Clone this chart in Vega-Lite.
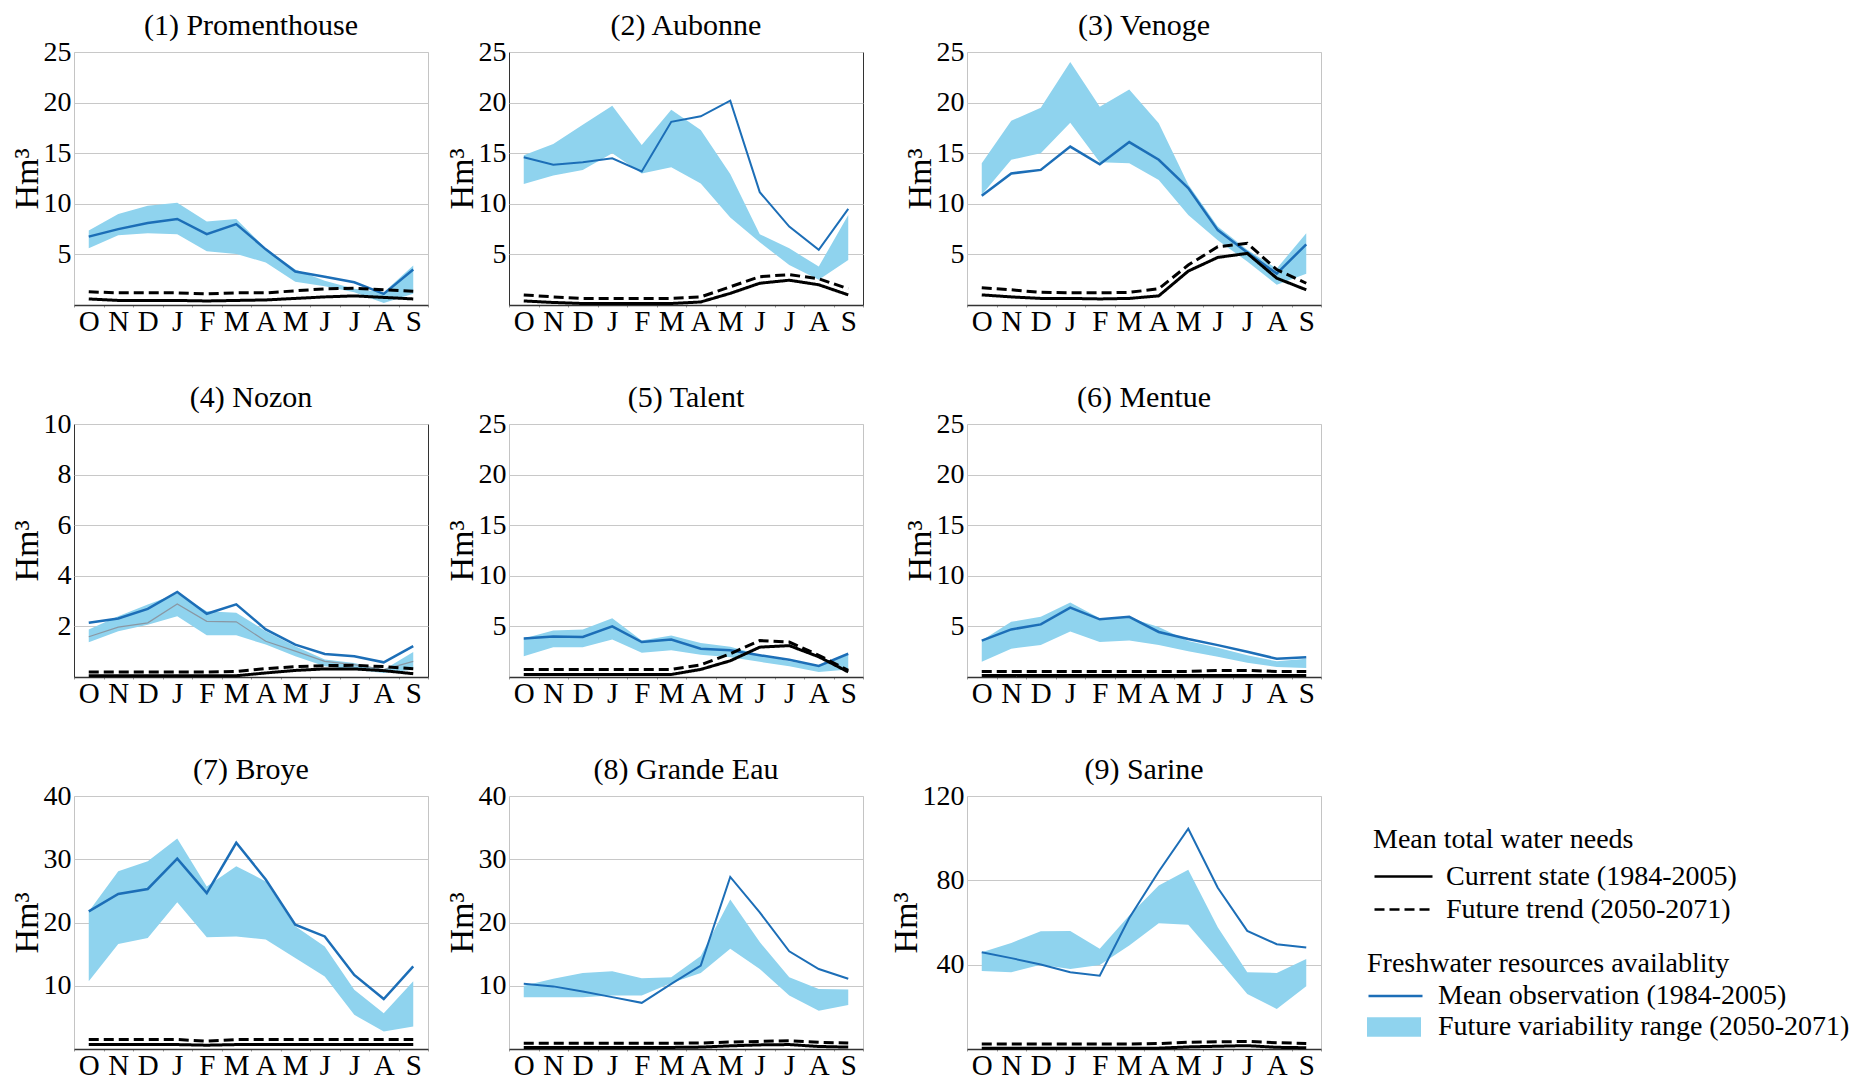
{
  "$schema": "https://vega.github.io/schema/vega-lite/v6.json",
  "background": "white",
  "padding": {"left": 9, "top": 10, "right": 5, "bottom": 0},
  "datasets": {
    "flows": [
      {"basin": "Promenthouse", "month": "Oct", "lo": 5.6, "hi": 7.35, "obs": 6.76, "now": 0.6, "fut": 1.3},
      {"basin": "Promenthouse", "month": "Nov", "lo": 6.9, "hi": 9.0, "obs": 7.5, "now": 0.45, "fut": 1.2},
      {"basin": "Promenthouse", "month": "Dec", "lo": 7.1, "hi": 9.8, "obs": 8.1, "now": 0.45, "fut": 1.2},
      {"basin": "Promenthouse", "month": "Jan", "lo": 7.0, "hi": 10.1, "obs": 8.5, "now": 0.45, "fut": 1.2},
      {"basin": "Promenthouse", "month": "Feb", "lo": 5.3, "hi": 8.25, "obs": 7.0, "now": 0.4, "fut": 1.1},
      {"basin": "Promenthouse", "month": "Mar", "lo": 5.05, "hi": 8.5, "obs": 8.0, "now": 0.45, "fut": 1.2},
      {"basin": "Promenthouse", "month": "Apr", "lo": 4.2, "hi": 5.6, "obs": 5.5, "now": 0.5, "fut": 1.2},
      {"basin": "Promenthouse", "month": "May", "lo": 2.3, "hi": 3.5, "obs": 3.3, "now": 0.65, "fut": 1.4},
      {"basin": "Promenthouse", "month": "Jun", "lo": 1.85, "hi": 2.4, "obs": 2.8, "now": 0.8, "fut": 1.6},
      {"basin": "Promenthouse", "month": "Jul", "lo": 1.25, "hi": 1.6, "obs": 2.25, "now": 0.9, "fut": 1.65},
      {"basin": "Promenthouse", "month": "Aug", "lo": 0.2, "hi": 1.25, "obs": 1.1, "now": 0.75, "fut": 1.5},
      {"basin": "Promenthouse", "month": "Sep", "lo": 1.1, "hi": 3.9, "obs": 3.5, "now": 0.6, "fut": 1.35},

      {"basin": "Aubonne", "month": "Oct", "lo": 11.95, "hi": 14.8, "obs": 14.6, "now": 0.4, "fut": 1.0},
      {"basin": "Aubonne", "month": "Nov", "lo": 12.8, "hi": 15.9, "obs": 13.85, "now": 0.25, "fut": 0.8},
      {"basin": "Aubonne", "month": "Dec", "lo": 13.35, "hi": 17.8, "obs": 14.1, "now": 0.15, "fut": 0.65},
      {"basin": "Aubonne", "month": "Jan", "lo": 15.0, "hi": 19.7, "obs": 14.5, "now": 0.15, "fut": 0.65},
      {"basin": "Aubonne", "month": "Feb", "lo": 13.0, "hi": 15.8, "obs": 13.2, "now": 0.15, "fut": 0.65},
      {"basin": "Aubonne", "month": "Mar", "lo": 13.6, "hi": 19.3, "obs": 18.1, "now": 0.15, "fut": 0.65},
      {"basin": "Aubonne", "month": "Apr", "lo": 12.0, "hi": 17.3, "obs": 18.65, "now": 0.3, "fut": 0.8},
      {"basin": "Aubonne", "month": "May", "lo": 8.65, "hi": 12.95, "obs": 20.2, "now": 1.15, "fut": 1.8},
      {"basin": "Aubonne", "month": "Jun", "lo": 6.2, "hi": 7.0, "obs": 11.15, "now": 2.15, "fut": 2.8},
      {"basin": "Aubonne", "month": "Jul", "lo": 3.95, "hi": 5.6, "obs": 7.75, "now": 2.45, "fut": 3.0},
      {"basin": "Aubonne", "month": "Aug", "lo": 2.5, "hi": 3.8, "obs": 5.45, "now": 2.0, "fut": 2.6},
      {"basin": "Aubonne", "month": "Sep", "lo": 4.45, "hi": 8.9, "obs": 9.5, "now": 1.0, "fut": 1.6},

      {"basin": "Venoge", "month": "Oct", "lo": 10.9, "hi": 14.0, "obs": 10.8, "now": 1.0, "fut": 1.7},
      {"basin": "Venoge", "month": "Nov", "lo": 14.35, "hi": 18.2, "obs": 13.0, "now": 0.8, "fut": 1.5},
      {"basin": "Venoge", "month": "Dec", "lo": 15.0, "hi": 19.5, "obs": 13.35, "now": 0.65, "fut": 1.25},
      {"basin": "Venoge", "month": "Jan", "lo": 18.0, "hi": 24.0, "obs": 15.65, "now": 0.65, "fut": 1.2},
      {"basin": "Venoge", "month": "Feb", "lo": 14.1, "hi": 19.6, "obs": 13.9, "now": 0.6, "fut": 1.2},
      {"basin": "Venoge", "month": "Mar", "lo": 14.0, "hi": 21.3, "obs": 16.1, "now": 0.65, "fut": 1.25},
      {"basin": "Venoge", "month": "Apr", "lo": 12.35, "hi": 17.95, "obs": 14.35, "now": 0.9, "fut": 1.6},
      {"basin": "Venoge", "month": "May", "lo": 8.9, "hi": 11.9, "obs": 11.55, "now": 3.35, "fut": 3.95},
      {"basin": "Venoge", "month": "Jun", "lo": 6.4, "hi": 7.75, "obs": 7.4, "now": 4.7, "fut": 5.75},
      {"basin": "Venoge", "month": "Jul", "lo": 4.3, "hi": 5.45, "obs": 5.2, "now": 5.1, "fut": 6.1},
      {"basin": "Venoge", "month": "Aug", "lo": 2.0, "hi": 3.6, "obs": 3.1, "now": 2.65, "fut": 3.5},
      {"basin": "Venoge", "month": "Sep", "lo": 3.1, "hi": 7.1, "obs": 6.0, "now": 1.5, "fut": 2.15},

      {"basin": "Nozon", "month": "Oct", "lo": 1.37, "hi": 1.88, "obs": 2.14, "mid": 1.59, "now": 0.05, "fut": 0.2},
      {"basin": "Nozon", "month": "Nov", "lo": 1.81, "hi": 2.4, "obs": 2.31, "mid": 1.97, "now": 0.05, "fut": 0.2},
      {"basin": "Nozon", "month": "Dec", "lo": 2.07, "hi": 2.87, "obs": 2.69, "mid": 2.14, "now": 0.05, "fut": 0.2},
      {"basin": "Nozon", "month": "Jan", "lo": 2.4, "hi": 3.3, "obs": 3.36, "mid": 2.89, "now": 0.05, "fut": 0.2},
      {"basin": "Nozon", "month": "Feb", "lo": 1.65, "hi": 2.6, "obs": 2.5, "mid": 2.2, "now": 0.05, "fut": 0.2},
      {"basin": "Nozon", "month": "Mar", "lo": 1.65, "hi": 2.54, "obs": 2.87, "mid": 2.18, "now": 0.05, "fut": 0.22},
      {"basin": "Nozon", "month": "Apr", "lo": 1.28, "hi": 1.81, "obs": 1.88, "mid": 1.41, "now": 0.16, "fut": 0.33},
      {"basin": "Nozon", "month": "May", "lo": 0.82, "hi": 1.22, "obs": 1.28, "mid": 1.02, "now": 0.26, "fut": 0.41},
      {"basin": "Nozon", "month": "Jun", "lo": 0.42, "hi": 0.69, "obs": 0.91, "mid": 0.62, "now": 0.32, "fut": 0.45},
      {"basin": "Nozon", "month": "Jul", "lo": 0.29, "hi": 0.55, "obs": 0.82, "mid": 0.49, "now": 0.32, "fut": 0.46},
      {"basin": "Nozon", "month": "Aug", "lo": 0.16, "hi": 0.29, "obs": 0.58, "mid": 0.29, "now": 0.25, "fut": 0.41},
      {"basin": "Nozon", "month": "Sep", "lo": 0.29, "hi": 0.99, "obs": 1.22, "mid": 0.62, "now": 0.13, "fut": 0.33},

      {"basin": "Talent", "month": "Oct", "lo": 2.05, "hi": 3.8, "obs": 3.8, "now": 0.25, "fut": 0.75},
      {"basin": "Talent", "month": "Nov", "lo": 2.95, "hi": 4.6, "obs": 4.0, "now": 0.25, "fut": 0.75},
      {"basin": "Talent", "month": "Dec", "lo": 2.95, "hi": 4.7, "obs": 3.95, "now": 0.25, "fut": 0.75},
      {"basin": "Talent", "month": "Jan", "lo": 3.7, "hi": 5.8, "obs": 5.0, "now": 0.25, "fut": 0.75},
      {"basin": "Talent", "month": "Feb", "lo": 2.4, "hi": 3.6, "obs": 3.45, "now": 0.25, "fut": 0.75},
      {"basin": "Talent", "month": "Mar", "lo": 2.65, "hi": 4.1, "obs": 3.7, "now": 0.25, "fut": 0.75},
      {"basin": "Talent", "month": "Apr", "lo": 2.2, "hi": 3.35, "obs": 2.8, "now": 0.75, "fut": 1.2},
      {"basin": "Talent", "month": "May", "lo": 1.95, "hi": 3.0, "obs": 2.65, "now": 1.6, "fut": 2.3},
      {"basin": "Talent", "month": "Jun", "lo": 1.5, "hi": 2.2, "obs": 2.15, "now": 2.95, "fut": 3.6},
      {"basin": "Talent", "month": "Jul", "lo": 1.05, "hi": 1.55, "obs": 1.7, "now": 3.1, "fut": 3.45},
      {"basin": "Talent", "month": "Aug", "lo": 0.5, "hi": 1.05, "obs": 1.1, "now": 2.0, "fut": 2.15},
      {"basin": "Talent", "month": "Sep", "lo": 0.75, "hi": 2.2, "obs": 2.3, "now": 0.5, "fut": 0.65},

      {"basin": "Mentue", "month": "Oct", "lo": 1.5, "hi": 3.6, "obs": 3.6, "now": 0.15, "fut": 0.55},
      {"basin": "Mentue", "month": "Nov", "lo": 2.8, "hi": 5.45, "obs": 4.7, "now": 0.15, "fut": 0.55},
      {"basin": "Mentue", "month": "Dec", "lo": 3.15, "hi": 5.95, "obs": 5.2, "now": 0.15, "fut": 0.55},
      {"basin": "Mentue", "month": "Jan", "lo": 4.5, "hi": 7.35, "obs": 6.85, "now": 0.15, "fut": 0.55},
      {"basin": "Mentue", "month": "Feb", "lo": 3.45, "hi": 5.8, "obs": 5.7, "now": 0.15, "fut": 0.55},
      {"basin": "Mentue", "month": "Mar", "lo": 3.6, "hi": 5.85, "obs": 5.95, "now": 0.15, "fut": 0.55},
      {"basin": "Mentue", "month": "Apr", "lo": 3.15, "hi": 4.95, "obs": 4.45, "now": 0.15, "fut": 0.55},
      {"basin": "Mentue", "month": "May", "lo": 2.55, "hi": 3.55, "obs": 3.75, "now": 0.15, "fut": 0.55},
      {"basin": "Mentue", "month": "Jun", "lo": 2.0, "hi": 2.9, "obs": 3.15, "now": 0.15, "fut": 0.65},
      {"basin": "Mentue", "month": "Jul", "lo": 1.4, "hi": 2.15, "obs": 2.5, "now": 0.15, "fut": 0.65},
      {"basin": "Mentue", "month": "Aug", "lo": 1.0, "hi": 1.55, "obs": 1.8, "now": 0.15, "fut": 0.55},
      {"basin": "Mentue", "month": "Sep", "lo": 0.9, "hi": 1.8, "obs": 1.95, "now": 0.15, "fut": 0.55},

      {"basin": "Broye", "month": "Oct", "lo": 10.7, "hi": 21.75, "obs": 21.75, "now": 0.7, "fut": 1.5},
      {"basin": "Broye", "month": "Nov", "lo": 16.6, "hi": 28.1, "obs": 24.5, "now": 0.7, "fut": 1.5},
      {"basin": "Broye", "month": "Dec", "lo": 17.55, "hi": 29.7, "obs": 25.3, "now": 0.7, "fut": 1.5},
      {"basin": "Broye", "month": "Jan", "lo": 23.2, "hi": 33.3, "obs": 30.1, "now": 0.7, "fut": 1.5},
      {"basin": "Broye", "month": "Feb", "lo": 17.65, "hi": 25.7, "obs": 24.65, "now": 0.6, "fut": 1.25},
      {"basin": "Broye", "month": "Mar", "lo": 17.8, "hi": 28.9, "obs": 32.6, "now": 0.7, "fut": 1.5},
      {"basin": "Broye", "month": "Apr", "lo": 17.3, "hi": 26.5, "obs": 26.8, "now": 0.7, "fut": 1.5},
      {"basin": "Broye", "month": "May", "lo": 14.4, "hi": 19.4, "obs": 19.65, "now": 0.7, "fut": 1.5},
      {"basin": "Broye", "month": "Jun", "lo": 11.45, "hi": 16.2, "obs": 17.8, "now": 0.7, "fut": 1.5},
      {"basin": "Broye", "month": "Jul", "lo": 5.4, "hi": 9.35, "obs": 11.7, "now": 0.7, "fut": 1.5},
      {"basin": "Broye", "month": "Aug", "lo": 2.75, "hi": 5.65, "obs": 7.9, "now": 0.7, "fut": 1.5},
      {"basin": "Broye", "month": "Sep", "lo": 3.55, "hi": 10.7, "obs": 13.05, "now": 0.7, "fut": 1.5},

      {"basin": "Grande Eau", "month": "Oct", "lo": 8.2, "hi": 10.0, "obs": 10.3, "now": 0.25, "fut": 0.9},
      {"basin": "Grande Eau", "month": "Nov", "lo": 8.2, "hi": 11.1, "obs": 9.9, "now": 0.25, "fut": 0.9},
      {"basin": "Grande Eau", "month": "Dec", "lo": 8.2, "hi": 12.0, "obs": 9.1, "now": 0.25, "fut": 0.9},
      {"basin": "Grande Eau", "month": "Jan", "lo": 8.45, "hi": 12.3, "obs": 8.2, "now": 0.25, "fut": 0.9},
      {"basin": "Grande Eau", "month": "Feb", "lo": 8.45, "hi": 11.2, "obs": 7.3, "now": 0.25, "fut": 0.9},
      {"basin": "Grande Eau", "month": "Mar", "lo": 10.45, "hi": 11.35, "obs": 10.3, "now": 0.25, "fut": 0.9},
      {"basin": "Grande Eau", "month": "Apr", "lo": 12.0, "hi": 14.7, "obs": 13.2, "now": 0.3, "fut": 0.95},
      {"basin": "Grande Eau", "month": "May", "lo": 15.85, "hi": 23.65, "obs": 27.2, "now": 0.5, "fut": 1.1},
      {"basin": "Grande Eau", "month": "Jun", "lo": 12.65, "hi": 16.9, "obs": 21.6, "now": 0.65, "fut": 1.2},
      {"basin": "Grande Eau", "month": "Jul", "lo": 8.45, "hi": 11.35, "obs": 15.45, "now": 0.7, "fut": 1.3},
      {"basin": "Grande Eau", "month": "Aug", "lo": 6.05, "hi": 9.5, "obs": 12.65, "now": 0.4, "fut": 1.05},
      {"basin": "Grande Eau", "month": "Sep", "lo": 6.95, "hi": 9.4, "obs": 11.1, "now": 0.3, "fut": 0.95},

      {"basin": "Sarine", "month": "Oct", "lo": 37.0, "hi": 45.9, "obs": 45.9, "now": 0.3, "fut": 2.4},
      {"basin": "Sarine", "month": "Nov", "lo": 36.4, "hi": 50.3, "obs": 43.1, "now": 0.3, "fut": 2.4},
      {"basin": "Sarine", "month": "Dec", "lo": 40.0, "hi": 55.9, "obs": 40.1, "now": 0.3, "fut": 2.4},
      {"basin": "Sarine", "month": "Jan", "lo": 38.0, "hi": 56.0, "obs": 36.4, "now": 0.3, "fut": 2.4},
      {"basin": "Sarine", "month": "Feb", "lo": 39.9, "hi": 47.5, "obs": 34.8, "now": 0.3, "fut": 2.4},
      {"basin": "Sarine", "month": "Mar", "lo": 49.1, "hi": 63.3, "obs": 62.1, "now": 0.3, "fut": 2.4},
      {"basin": "Sarine", "month": "Apr", "lo": 59.7, "hi": 77.6, "obs": 84.2, "now": 0.4, "fut": 2.6},
      {"basin": "Sarine", "month": "May", "lo": 58.9, "hi": 85.0, "obs": 104.5, "now": 1.0, "fut": 3.2},
      {"basin": "Sarine", "month": "Jun", "lo": 42.7, "hi": 57.8, "obs": 76.5, "now": 1.3, "fut": 3.4},
      {"basin": "Sarine", "month": "Jul", "lo": 26.1, "hi": 36.4, "obs": 56.0, "now": 1.6, "fut": 3.6},
      {"basin": "Sarine", "month": "Aug", "lo": 19.0, "hi": 36.1, "obs": 49.7, "now": 0.8, "fut": 3.0},
      {"basin": "Sarine", "month": "Sep", "lo": 29.8, "hi": 42.7, "obs": 48.1, "now": 0.6, "fut": 2.6}
    ]
  },
  "config": {
    "font": "Liberation Serif",
    "view": {"stroke": "#c4c4c4", "strokeWidth": 1},
    "title": {"fontSize": 30, "fontWeight": "normal", "color": "black", "offset": -3, "anchor": "middle", "frame": "group"},
    "axis": {"labelFont": "Liberation Serif", "titleFont": "Liberation Serif", "labelColor": "black", "titleColor": "black", "titleFontWeight": "normal"},
    "axisY": {"grid": true, "gridColor": "#c8c8c8", "gridWidth": 1, "domain": false, "ticks": false, "labelFontSize": 28, "labelPadding": 3, "titleFontSize": 34, "titlePadding": -1},
    "axisX": {"grid": false, "domainColor": "#333333", "domainWidth": 1.5, "tickColor": "#999999", "tickSize": 2, "tickBand": "extent", "labelFontSize": 29, "labelPadding": 0, "labelAngle": 0},
    "legend": {"labelFont": "Liberation Serif", "titleFont": "Liberation Serif", "labelFontSize": 28, "titleFontSize": 28, "titleFontWeight": "normal", "labelColor": "black", "titleColor": "black", "padding": 0, "labelLimit": 600, "titleLimit": 600}
  },
  "spacing": 24,
  "resolve": {"legend": {"color": "independent", "strokeDash": "independent", "fill": "independent", "stroke": "independent"}},
  "hconcat": [
    {
      "spacing": 15,
      "hconcat": [
        {
          "spacing": 45,
          "vconcat": [
            {
              "title": "(1) Promenthouse", "width": 354, "height": 253,
              "data": {"name": "flows"},
              "transform": [{"filter": "datum.basin === 'Promenthouse'"}],
              "encoding": {"x": {"field": "month", "type": "ordinal", "title": null, "bandPosition": 0.5, "scale": {"type": "band", "domain": ["Oct","Nov","Dec","Jan","Feb","Mar","Apr","May","Jun","Jul","Aug","Sep"], "paddingInner": 0, "paddingOuter": 0}, "axis": {"labelExpr": "substring(datum.label, 0, 1)"}}},
              "layer": [
                {"mark": {"type": "area", "opacity": 1}, "encoding": {"y": {"field": "lo", "type": "quantitative", "title": "Hm³", "scale": {"domain": [0, 25], "nice": false}, "axis": {"values": [5, 10, 15, 20, 25]}}, "y2": {"field": "hi"}, "color": {"datum": "Future variability range (2050-2071)", "type": "nominal", "scale": {"domain": ["Mean observation (1984-2005)", "Future variability range (2050-2071)"], "range": ["#1c6eb7", "#8fd3ee"]}, "legend": null}}},
                {"mark": {"type": "line", "strokeWidth": 2.5}, "encoding": {"y": {"field": "obs", "type": "quantitative", "title": "Hm³", "scale": {"domain": [0, 25], "nice": false}}, "color": {"datum": "Mean observation (1984-2005)", "type": "nominal", "scale": {"domain": ["Mean observation (1984-2005)", "Future variability range (2050-2071)"], "range": ["#1c6eb7", "#8fd3ee"]}, "legend": null}}},
                {"transform": [{"fold": ["now", "fut"], "as": ["need", "amount"]}], "mark": {"type": "line", "color": "black", "strokeWidth": 3}, "encoding": {"y": {"field": "amount", "type": "quantitative", "title": "Hm³", "scale": {"domain": [0, 25], "nice": false}}, "strokeDash": {"field": "need", "type": "nominal", "scale": {"domain": ["now", "fut"], "range": [[1, 0], [10, 5]]}, "legend": null}}}
              ]
            },
            {
              "title": "(4) Nozon", "width": 354, "height": 253,
              "view": {"stroke": "#333333"},
              "data": {"name": "flows"},
              "transform": [{"filter": "datum.basin === 'Nozon'"}],
              "encoding": {"x": {"field": "month", "type": "ordinal", "title": null, "bandPosition": 0.5, "scale": {"type": "band", "domain": ["Oct","Nov","Dec","Jan","Feb","Mar","Apr","May","Jun","Jul","Aug","Sep"], "paddingInner": 0, "paddingOuter": 0}, "axis": {"labelExpr": "substring(datum.label, 0, 1)"}}},
              "layer": [
                {"mark": {"type": "area", "opacity": 1}, "encoding": {"y": {"field": "lo", "type": "quantitative", "title": "Hm³", "scale": {"domain": [0, 10], "nice": false}, "axis": {"values": [2, 4, 6, 8, 10]}}, "y2": {"field": "hi"}, "color": {"datum": "Future variability range (2050-2071)", "type": "nominal", "scale": {"domain": ["Mean observation (1984-2005)", "Future variability range (2050-2071)"], "range": ["#1c6eb7", "#8fd3ee"]}, "legend": null}}},
                {"mark": {"type": "line", "strokeWidth": 1.2, "color": "#8a97a3"}, "encoding": {"y": {"field": "mid", "type": "quantitative", "title": "Hm³", "scale": {"domain": [0, 10], "nice": false}}}},
                {"mark": {"type": "line", "strokeWidth": 2.5}, "encoding": {"y": {"field": "obs", "type": "quantitative", "title": "Hm³", "scale": {"domain": [0, 10], "nice": false}}, "color": {"datum": "Mean observation (1984-2005)", "type": "nominal", "scale": {"domain": ["Mean observation (1984-2005)", "Future variability range (2050-2071)"], "range": ["#1c6eb7", "#8fd3ee"]}, "legend": null}}},
                {"transform": [{"fold": ["now", "fut"], "as": ["need", "amount"]}], "mark": {"type": "line", "color": "black", "strokeWidth": 3}, "encoding": {"y": {"field": "amount", "type": "quantitative", "title": "Hm³", "scale": {"domain": [0, 10], "nice": false}}, "strokeDash": {"field": "need", "type": "nominal", "scale": {"domain": ["now", "fut"], "range": [[1, 0], [10, 5]]}, "legend": null}}}
              ]
            },
            {
              "title": "(7) Broye", "width": 354, "height": 253,
              "data": {"name": "flows"},
              "transform": [{"filter": "datum.basin === 'Broye'"}],
              "encoding": {"x": {"field": "month", "type": "ordinal", "title": null, "bandPosition": 0.5, "scale": {"type": "band", "domain": ["Oct","Nov","Dec","Jan","Feb","Mar","Apr","May","Jun","Jul","Aug","Sep"], "paddingInner": 0, "paddingOuter": 0}, "axis": {"labelExpr": "substring(datum.label, 0, 1)"}}},
              "layer": [
                {"mark": {"type": "area", "opacity": 1}, "encoding": {"y": {"field": "lo", "type": "quantitative", "title": "Hm³", "scale": {"domain": [0, 40], "nice": false}, "axis": {"values": [10, 20, 30, 40]}}, "y2": {"field": "hi"}, "color": {"datum": "Future variability range (2050-2071)", "type": "nominal", "scale": {"domain": ["Mean observation (1984-2005)", "Future variability range (2050-2071)"], "range": ["#1c6eb7", "#8fd3ee"]}, "legend": null}}},
                {"mark": {"type": "line", "strokeWidth": 2.5}, "encoding": {"y": {"field": "obs", "type": "quantitative", "title": "Hm³", "scale": {"domain": [0, 40], "nice": false}}, "color": {"datum": "Mean observation (1984-2005)", "type": "nominal", "scale": {"domain": ["Mean observation (1984-2005)", "Future variability range (2050-2071)"], "range": ["#1c6eb7", "#8fd3ee"]}, "legend": null}}},
                {"transform": [{"fold": ["now", "fut"], "as": ["need", "amount"]}], "mark": {"type": "line", "color": "black", "strokeWidth": 3}, "encoding": {"y": {"field": "amount", "type": "quantitative", "title": "Hm³", "scale": {"domain": [0, 40], "nice": false}}, "strokeDash": {"field": "need", "type": "nominal", "scale": {"domain": ["now", "fut"], "range": [[1, 0], [10, 5]]}, "legend": null}}}
              ]
            }
          ]
        },
        {
          "spacing": 45,
          "vconcat": [
            {
              "title": "(2) Aubonne", "width": 354, "height": 253,
              "view": {"stroke": "#333333"},
              "data": {"name": "flows"},
              "transform": [{"filter": "datum.basin === 'Aubonne'"}],
              "encoding": {"x": {"field": "month", "type": "ordinal", "title": null, "bandPosition": 0.5, "scale": {"type": "band", "domain": ["Oct","Nov","Dec","Jan","Feb","Mar","Apr","May","Jun","Jul","Aug","Sep"], "paddingInner": 0, "paddingOuter": 0}, "axis": {"labelExpr": "substring(datum.label, 0, 1)"}}},
              "layer": [
                {"mark": {"type": "area", "opacity": 1}, "encoding": {"y": {"field": "lo", "type": "quantitative", "title": "Hm³", "scale": {"domain": [0, 25], "nice": false}, "axis": {"values": [5, 10, 15, 20, 25]}}, "y2": {"field": "hi"}, "color": {"datum": "Future variability range (2050-2071)", "type": "nominal", "scale": {"domain": ["Mean observation (1984-2005)", "Future variability range (2050-2071)"], "range": ["#1c6eb7", "#8fd3ee"]}, "legend": null}}},
                {"mark": {"type": "line", "strokeWidth": 2}, "encoding": {"y": {"field": "obs", "type": "quantitative", "title": "Hm³", "scale": {"domain": [0, 25], "nice": false}}, "color": {"datum": "Mean observation (1984-2005)", "type": "nominal", "scale": {"domain": ["Mean observation (1984-2005)", "Future variability range (2050-2071)"], "range": ["#1c6eb7", "#8fd3ee"]}, "legend": null}}},
                {"transform": [{"fold": ["now", "fut"], "as": ["need", "amount"]}], "mark": {"type": "line", "color": "black", "strokeWidth": 3}, "encoding": {"y": {"field": "amount", "type": "quantitative", "title": "Hm³", "scale": {"domain": [0, 25], "nice": false}}, "strokeDash": {"field": "need", "type": "nominal", "scale": {"domain": ["now", "fut"], "range": [[1, 0], [10, 5]]}, "legend": null}}}
              ]
            },
            {
              "title": "(5) Talent", "width": 354, "height": 253,
              "data": {"name": "flows"},
              "transform": [{"filter": "datum.basin === 'Talent'"}],
              "encoding": {"x": {"field": "month", "type": "ordinal", "title": null, "bandPosition": 0.5, "scale": {"type": "band", "domain": ["Oct","Nov","Dec","Jan","Feb","Mar","Apr","May","Jun","Jul","Aug","Sep"], "paddingInner": 0, "paddingOuter": 0}, "axis": {"labelExpr": "substring(datum.label, 0, 1)"}}},
              "layer": [
                {"mark": {"type": "area", "opacity": 1}, "encoding": {"y": {"field": "lo", "type": "quantitative", "title": "Hm³", "scale": {"domain": [0, 25], "nice": false}, "axis": {"values": [5, 10, 15, 20, 25]}}, "y2": {"field": "hi"}, "color": {"datum": "Future variability range (2050-2071)", "type": "nominal", "scale": {"domain": ["Mean observation (1984-2005)", "Future variability range (2050-2071)"], "range": ["#1c6eb7", "#8fd3ee"]}, "legend": null}}},
                {"mark": {"type": "line", "strokeWidth": 2.5}, "encoding": {"y": {"field": "obs", "type": "quantitative", "title": "Hm³", "scale": {"domain": [0, 25], "nice": false}}, "color": {"datum": "Mean observation (1984-2005)", "type": "nominal", "scale": {"domain": ["Mean observation (1984-2005)", "Future variability range (2050-2071)"], "range": ["#1c6eb7", "#8fd3ee"]}, "legend": null}}},
                {"transform": [{"fold": ["now", "fut"], "as": ["need", "amount"]}], "mark": {"type": "line", "color": "black", "strokeWidth": 3}, "encoding": {"y": {"field": "amount", "type": "quantitative", "title": "Hm³", "scale": {"domain": [0, 25], "nice": false}}, "strokeDash": {"field": "need", "type": "nominal", "scale": {"domain": ["now", "fut"], "range": [[1, 0], [10, 5]]}, "legend": null}}}
              ]
            },
            {
              "title": "(8) Grande Eau", "width": 354, "height": 253,
              "data": {"name": "flows"},
              "transform": [{"filter": "datum.basin === 'Grande Eau'"}],
              "encoding": {"x": {"field": "month", "type": "ordinal", "title": null, "bandPosition": 0.5, "scale": {"type": "band", "domain": ["Oct","Nov","Dec","Jan","Feb","Mar","Apr","May","Jun","Jul","Aug","Sep"], "paddingInner": 0, "paddingOuter": 0}, "axis": {"labelExpr": "substring(datum.label, 0, 1)"}}},
              "layer": [
                {"mark": {"type": "area", "opacity": 1}, "encoding": {"y": {"field": "lo", "type": "quantitative", "title": "Hm³", "scale": {"domain": [0, 40], "nice": false}, "axis": {"values": [10, 20, 30, 40]}}, "y2": {"field": "hi"}, "color": {"datum": "Future variability range (2050-2071)", "type": "nominal", "scale": {"domain": ["Mean observation (1984-2005)", "Future variability range (2050-2071)"], "range": ["#1c6eb7", "#8fd3ee"]}, "legend": null}}},
                {"mark": {"type": "line", "strokeWidth": 2}, "encoding": {"y": {"field": "obs", "type": "quantitative", "title": "Hm³", "scale": {"domain": [0, 40], "nice": false}}, "color": {"datum": "Mean observation (1984-2005)", "type": "nominal", "scale": {"domain": ["Mean observation (1984-2005)", "Future variability range (2050-2071)"], "range": ["#1c6eb7", "#8fd3ee"]}, "legend": null}}},
                {"transform": [{"fold": ["now", "fut"], "as": ["need", "amount"]}], "mark": {"type": "line", "color": "black", "strokeWidth": 3}, "encoding": {"y": {"field": "amount", "type": "quantitative", "title": "Hm³", "scale": {"domain": [0, 40], "nice": false}}, "strokeDash": {"field": "need", "type": "nominal", "scale": {"domain": ["now", "fut"], "range": [[1, 0], [10, 5]]}, "legend": null}}}
              ]
            }
          ]
        }
      ]
    },
    {
      "spacing": 45,
      "resolve": {"legend": {"color": "independent", "strokeDash": "independent", "fill": "independent", "stroke": "independent"}},
      "vconcat": [
        {
          "title": "(3) Venoge", "width": 354, "height": 253,
          "data": {"name": "flows"},
          "transform": [{"filter": "datum.basin === 'Venoge'"}],
          "encoding": {"x": {"field": "month", "type": "ordinal", "title": null, "bandPosition": 0.5, "scale": {"type": "band", "domain": ["Oct","Nov","Dec","Jan","Feb","Mar","Apr","May","Jun","Jul","Aug","Sep"], "paddingInner": 0, "paddingOuter": 0}, "axis": {"labelExpr": "substring(datum.label, 0, 1)"}}},
          "layer": [
            {"mark": {"type": "area", "opacity": 1}, "encoding": {"y": {"field": "lo", "type": "quantitative", "title": "Hm³", "scale": {"domain": [0, 25], "nice": false}, "axis": {"values": [5, 10, 15, 20, 25]}}, "y2": {"field": "hi"}, "color": {"datum": "Future variability range (2050-2071)", "type": "nominal", "scale": {"domain": ["Mean observation (1984-2005)", "Future variability range (2050-2071)"], "range": ["#1c6eb7", "#8fd3ee"]}, "legend": null}}},
            {"mark": {"type": "line", "strokeWidth": 2.5}, "encoding": {"y": {"field": "obs", "type": "quantitative", "title": "Hm³", "scale": {"domain": [0, 25], "nice": false}}, "color": {"datum": "Mean observation (1984-2005)", "type": "nominal", "scale": {"domain": ["Mean observation (1984-2005)", "Future variability range (2050-2071)"], "range": ["#1c6eb7", "#8fd3ee"]}, "legend": null}}},
            {"transform": [{"fold": ["now", "fut"], "as": ["need", "amount"]}], "mark": {"type": "line", "color": "black", "strokeWidth": 3}, "encoding": {"y": {"field": "amount", "type": "quantitative", "title": "Hm³", "scale": {"domain": [0, 25], "nice": false}}, "strokeDash": {"field": "need", "type": "nominal", "scale": {"domain": ["now", "fut"], "range": [[1, 0], [10, 5]]}, "legend": null}}}
          ]
        },
        {
          "title": "(6) Mentue", "width": 354, "height": 253,
          "data": {"name": "flows"},
          "transform": [{"filter": "datum.basin === 'Mentue'"}],
          "encoding": {"x": {"field": "month", "type": "ordinal", "title": null, "bandPosition": 0.5, "scale": {"type": "band", "domain": ["Oct","Nov","Dec","Jan","Feb","Mar","Apr","May","Jun","Jul","Aug","Sep"], "paddingInner": 0, "paddingOuter": 0}, "axis": {"labelExpr": "substring(datum.label, 0, 1)"}}},
          "layer": [
            {"mark": {"type": "area", "opacity": 1}, "encoding": {"y": {"field": "lo", "type": "quantitative", "title": "Hm³", "scale": {"domain": [0, 25], "nice": false}, "axis": {"values": [5, 10, 15, 20, 25]}}, "y2": {"field": "hi"}, "color": {"datum": "Future variability range (2050-2071)", "type": "nominal", "scale": {"domain": ["Mean observation (1984-2005)", "Future variability range (2050-2071)"], "range": ["#1c6eb7", "#8fd3ee"]}, "legend": null}}},
            {"mark": {"type": "line", "strokeWidth": 2.5}, "encoding": {"y": {"field": "obs", "type": "quantitative", "title": "Hm³", "scale": {"domain": [0, 25], "nice": false}}, "color": {"datum": "Mean observation (1984-2005)", "type": "nominal", "scale": {"domain": ["Mean observation (1984-2005)", "Future variability range (2050-2071)"], "range": ["#1c6eb7", "#8fd3ee"]}, "legend": null}}},
            {"transform": [{"fold": ["now", "fut"], "as": ["need", "amount"]}], "mark": {"type": "line", "color": "black", "strokeWidth": 3}, "encoding": {"y": {"field": "amount", "type": "quantitative", "title": "Hm³", "scale": {"domain": [0, 25], "nice": false}}, "strokeDash": {"field": "need", "type": "nominal", "scale": {"domain": ["now", "fut"], "range": [[1, 0], [10, 5]]}, "legend": null}}}
          ]
        },
        {
          "title": "(9) Sarine", "width": 354, "height": 253,
          "data": {"name": "flows"},
          "transform": [{"filter": "datum.basin === 'Sarine'"}],
          "encoding": {"x": {"field": "month", "type": "ordinal", "title": null, "bandPosition": 0.5, "scale": {"type": "band", "domain": ["Oct","Nov","Dec","Jan","Feb","Mar","Apr","May","Jun","Jul","Aug","Sep"], "paddingInner": 0, "paddingOuter": 0}, "axis": {"labelExpr": "substring(datum.label, 0, 1)"}}},
          "layer": [
            {"mark": {"type": "area", "opacity": 1}, "encoding": {"y": {"field": "lo", "type": "quantitative", "title": "Hm³", "scale": {"domain": [0, 120], "nice": false}, "axis": {"values": [40, 80, 120]}}, "y2": {"field": "hi"},
              "fill": {"datum": "Future variability range (2050-2071)", "type": "nominal", "scale": {"domain": ["Future variability range (2050-2071)"], "range": ["#8fd3ee"]},
                "legend": {"title": null, "orient": "none", "legendX": 400, "legendY": 215, "symbolType": "M-1,-0.36L1,-0.36L1,0.36L-1,0.36Z", "symbolSize": 2916, "symbolStrokeWidth": 0, "symbolOpacity": 1, "clipHeight": 32, "labelOffset": 17, "rowPadding": 0}}}},
            {"mark": {"type": "line", "strokeWidth": 2}, "encoding": {"y": {"field": "obs", "type": "quantitative", "title": "Hm³", "scale": {"domain": [0, 120], "nice": false}},
              "stroke": {"datum": "Mean observation (1984-2005)", "type": "nominal", "scale": {"domain": ["Mean observation (1984-2005)"], "range": ["#1c6eb7"]},
                "legend": {"title": "Freshwater resources availablity", "orient": "none", "legendX": 400, "legendY": 154, "symbolType": "M-1,0L1,0", "symbolSize": 2916, "symbolStrokeWidth": 2.5, "clipHeight": 32, "labelOffset": 14, "titlePadding": 2, "rowPadding": 0}}}},
            {"transform": [{"fold": ["now", "fut"], "as": ["need", "amount"]}], "mark": {"type": "line", "color": "black", "strokeWidth": 3}, "encoding": {"y": {"field": "amount", "type": "quantitative", "title": "Hm³", "scale": {"domain": [0, 120], "nice": false}},
              "strokeDash": {"field": "need", "type": "nominal", "scale": {"domain": ["now", "fut"], "range": [[1, 0], [10, 5]]},
                "legend": {"title": "Mean total water needs", "orient": "none", "legendX": 406, "legendY": 30, "symbolType": "M-1,0L1,0", "symbolSize": 3364, "symbolStrokeWidth": 2.5, "symbolStrokeColor": "black", "clipHeight": 33, "labelOffset": 12, "titlePadding": 6, "rowPadding": 0,
                  "labelExpr": "datum.value === 'now' ? 'Current state (1984-2005)' : 'Future trend (2050-2071)'",
                  "encode": {"symbols": {"update": {
                    "strokeDash": {"value": {"expr": "datum.value === 'now' ? [1, 0] : [7, 4]"}}}}}}}}}
          ]
        }
      ]
    }
  ]
}
